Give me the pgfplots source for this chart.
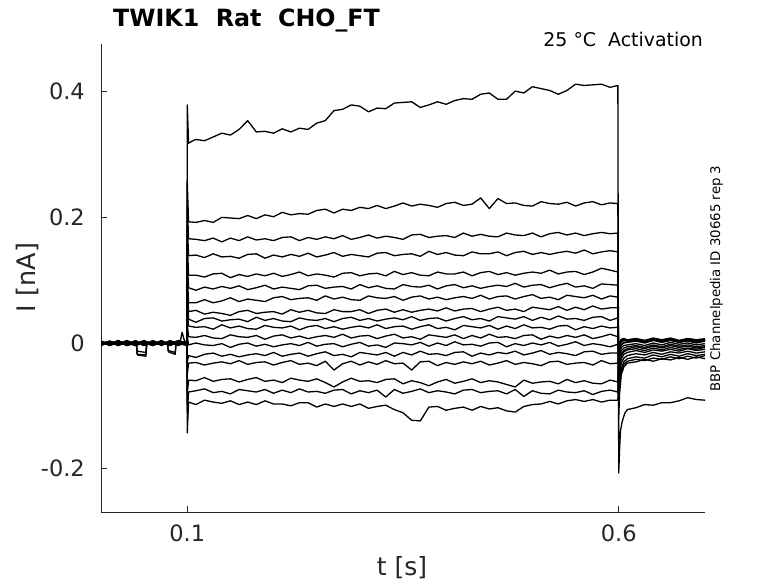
\documentclass[border=0pt]{standalone}
\usepackage{fontspec}
\setmainfont{DejaVu Sans}
\usepackage{pgfplots}
\pgfplotsset{compat=1.18}
\begin{document}
\begin{tikzpicture}
\useasboundingbox (0,0) rectangle (778pt,583pt);
\begin{axis}[
  at={(101pt,71pt)}, anchor=south west,
  scale only axis, width=604pt, height=468pt,
  xmin=0, xmax=0.7, ymin=-0.269, ymax=0.476,
  axis x line*=bottom, axis y line*=left,
  axis line style={black!85, line width=0.8pt, -},
  xtick={0.1,0.6}, xticklabels={0.1,0.6},
  ytick={-0.2,0,0.2,0.4}, yticklabels={-0.2,0,0.2,0.4},
  tick align=inside, major tick length=6pt,
  tick style={black!85, line width=0.8pt},
  ticklabel style={font=\fontsize{22.5}{27}\selectfont, text=black!85},
  xticklabel style={inner sep=0pt, yshift=-13pt},
  yticklabel style={inner sep=0pt, xshift=-16pt},
  cycle list={{black,solid}},
  every axis plot post/.append style={black, solid, line width=1.3pt, line join=round, mark=none},
]
% a
\addplot coordinates {(0,0.002)(0.01,-0.004)(0.02,0.001)(0.03,-0.002)(0.041,-0.003)(0.042,-0.018)(0.052,-0.019)(0.053,-0.003)(0.06,0.003)(0.07,-0.002)(0.08,0.001)(0.09,-0.004)(0.0995,0.002)(0.1,0.379)(0.1015,0.318)(0.105,0.321)
(0.11,0.324)(0.12,0.322)(0.13,0.328)(0.14,0.334)(0.15,0.331)(0.16,0.340)(0.17,0.354)(0.18,0.336)(0.19,0.337)(0.20,0.334)
(0.21,0.341)(0.22,0.336)(0.23,0.342)(0.24,0.340)(0.25,0.350)(0.26,0.354)(0.27,0.370)(0.28,0.372)(0.29,0.379)(0.30,0.377)
(0.31,0.368)(0.32,0.374)(0.33,0.373)(0.34,0.382)(0.35,0.383)(0.36,0.384)(0.37,0.375)(0.38,0.379)(0.39,0.384)(0.40,0.380)
(0.41,0.386)(0.42,0.389)(0.43,0.388)(0.44,0.396)(0.45,0.398)(0.46,0.388)(0.47,0.388)(0.48,0.401)(0.49,0.398)(0.50,0.408)
(0.51,0.405)(0.52,0.402)(0.53,0.396)(0.54,0.402)(0.55,0.412)(0.56,0.410)(0.57,0.411)(0.58,0.412)(0.59,0.407)(0.599,0.410)
(0.6,-0.207)(0.601,-0.17)(0.602,-0.14)(0.604,-0.125)(0.607,-0.112)(0.61,-0.106)(0.62,-0.103)(0.63,-0.098)(0.64,-0.099)(0.65,-0.095)(0.66,-0.095)(0.67,-0.092)(0.68,-0.087)(0.69,-0.090)(0.70,-0.091)};
% b
\addplot coordinates {(0,-0.003)(0.01,0.002)(0.02,-0.004)(0.03,0.001)(0.041,-0.002)(0.042,-0.013)(0.052,-0.015)(0.053,-0.002)(0.06,0.002)(0.07,-0.003)(0.08,0.003)(0.09,-0.001)(0.0995,-0.004)(0.1,0.255)(0.1015,0.193)
(0.11,0.192)(0.12,0.195)(0.13,0.192)(0.14,0.200)(0.15,0.199)(0.16,0.198)(0.17,0.203)(0.18,0.198)(0.19,0.204)(0.20,0.201)
(0.21,0.208)(0.22,0.204)(0.23,0.206)(0.24,0.205)(0.25,0.211)(0.26,0.213)(0.27,0.207)(0.28,0.213)(0.29,0.211)(0.30,0.216)
(0.31,0.214)(0.32,0.219)(0.33,0.214)(0.34,0.218)(0.35,0.223)(0.36,0.218)(0.37,0.221)(0.38,0.219)(0.39,0.216)(0.40,0.222)
(0.41,0.224)(0.42,0.219)(0.43,0.221)(0.44,0.231)(0.45,0.214)(0.46,0.230)(0.47,0.222)(0.48,0.223)(0.49,0.219)(0.50,0.218)
(0.51,0.225)(0.52,0.222)(0.53,0.221)(0.54,0.224)(0.55,0.218)(0.56,0.223)(0.57,0.225)(0.58,0.220)(0.59,0.223)(0.599,0.222)
(0.6,-0.12)(0.601,-0.08)(0.603,-0.05)(0.606,-0.038)(0.61,-0.032)(0.62,-0.030)(0.63,-0.026)(0.64,-0.029)(0.65,-0.025)(0.66,-0.027)(0.67,-0.023)(0.68,-0.026)(0.69,-0.022)(0.70,-0.025)};
% c
\addplot coordinates {(0,0.001)(0.01,-0.002)(0.02,0.003)(0.03,-0.003)(0.041,0.000)(0.042,-0.019)(0.052,-0.021)(0.053,-0.001)(0.06,-0.004)(0.07,0.002)(0.08,-0.002)(0.09,0.003)(0.0995,0.000)(0.1,0.22)(0.1015,0.166)
(0.11,0.165)(0.12,0.163)(0.13,0.167)(0.14,0.161)(0.15,0.167)(0.16,0.163)(0.17,0.169)(0.18,0.164)(0.19,0.166)(0.20,0.163)
(0.21,0.168)(0.22,0.169)(0.23,0.163)(0.24,0.168)(0.25,0.165)(0.26,0.169)(0.27,0.166)(0.28,0.171)(0.29,0.165)(0.30,0.168)
(0.31,0.172)(0.32,0.167)(0.33,0.170)(0.34,0.168)(0.35,0.165)(0.36,0.172)(0.37,0.173)(0.38,0.168)(0.39,0.170)(0.40,0.171)
(0.41,0.168)(0.42,0.175)(0.43,0.170)(0.44,0.173)(0.45,0.170)(0.46,0.169)(0.47,0.175)(0.48,0.172)(0.49,0.171)(0.50,0.175)
(0.51,0.169)(0.52,0.174)(0.53,0.176)(0.54,0.172)(0.55,0.175)(0.56,0.171)(0.57,0.174)(0.58,0.176)(0.59,0.174)(0.599,0.175)
(0.6,-0.10)(0.601,-0.07)(0.603,-0.045)(0.606,-0.034)(0.61,-0.029)(0.62,-0.026)(0.63,-0.028)(0.64,-0.024)(0.65,-0.026)(0.66,-0.022)(0.67,-0.025)(0.68,-0.021)(0.69,-0.024)(0.70,-0.020)};
% d
\addplot coordinates {(0,-0.001)(0.01,0.003)(0.02,-0.002)(0.03,0.002)(0.04,-0.003)(0.05,0.001)(0.06,-0.002)(0.07,0.003)(0.077,-0.001)(0.078,-0.014)(0.086,-0.018)(0.087,-0.002)(0.0995,0.002)(0.1,0.19)(0.1015,0.139)
(0.11,0.140)(0.12,0.136)(0.13,0.142)(0.14,0.137)(0.15,0.138)(0.16,0.135)(0.17,0.141)(0.18,0.142)(0.19,0.135)(0.20,0.140)
(0.21,0.137)(0.22,0.141)(0.23,0.138)(0.24,0.143)(0.25,0.137)(0.26,0.140)(0.27,0.144)(0.28,0.138)(0.29,0.141)(0.30,0.139)
(0.31,0.137)(0.32,0.143)(0.33,0.144)(0.34,0.139)(0.35,0.141)(0.36,0.142)(0.37,0.138)(0.38,0.146)(0.39,0.141)(0.40,0.144)
(0.41,0.140)(0.42,0.139)(0.43,0.145)(0.44,0.142)(0.45,0.142)(0.46,0.145)(0.47,0.139)(0.48,0.144)(0.49,0.146)(0.50,0.141)
(0.51,0.144)(0.52,0.141)(0.53,0.144)(0.54,0.146)(0.55,0.143)(0.56,0.148)(0.57,0.142)(0.58,0.145)(0.59,0.147)(0.599,0.145)
(0.6,-0.085)(0.601,-0.06)(0.603,-0.04)(0.606,-0.030)(0.61,-0.025)(0.62,-0.022)(0.63,-0.024)(0.64,-0.019)(0.65,-0.022)(0.66,-0.018)(0.67,-0.021)(0.68,-0.017)(0.69,-0.020)(0.70,-0.018)};
% e
\addplot coordinates {(0,0.003)(0.01,-0.001)(0.02,0.002)(0.03,-0.004)(0.04,0.002)(0.05,-0.002)(0.06,0.001)(0.07,-0.001)(0.077,0.001)(0.078,-0.012)(0.086,-0.015)(0.087,0.000)(0.0995,-0.002)(0.1,0.16)(0.1015,0.108)
(0.11,0.108)(0.12,0.105)(0.13,0.110)(0.14,0.111)(0.15,0.104)(0.16,0.109)(0.17,0.106)(0.18,0.110)(0.19,0.107)(0.20,0.111)
(0.21,0.106)(0.22,0.109)(0.23,0.113)(0.24,0.107)(0.25,0.110)(0.26,0.108)(0.27,0.105)(0.28,0.111)(0.29,0.112)(0.30,0.107)
(0.31,0.110)(0.32,0.111)(0.33,0.107)(0.34,0.114)(0.35,0.109)(0.36,0.112)(0.37,0.108)(0.38,0.107)(0.39,0.113)(0.40,0.110)
(0.41,0.110)(0.42,0.113)(0.43,0.107)(0.44,0.112)(0.45,0.114)(0.46,0.109)(0.47,0.112)(0.48,0.108)(0.49,0.111)(0.50,0.113)
(0.51,0.111)(0.52,0.116)(0.53,0.110)(0.54,0.113)(0.55,0.114)(0.56,0.109)(0.57,0.113)(0.58,0.119)(0.59,0.116)(0.599,0.113)
(0.6,-0.07)(0.601,-0.05)(0.603,-0.032)(0.606,-0.024)(0.61,-0.020)(0.62,-0.017)(0.63,-0.019)(0.64,-0.015)(0.65,-0.018)(0.66,-0.014)(0.67,-0.016)(0.68,-0.013)(0.69,-0.016)(0.70,-0.014)};
% f
\addplot coordinates {(0,-0.002)(0.01,0.001)(0.02,-0.003)(0.03,0.003)(0.04,-0.001)(0.05,0.002)(0.06,-0.003)(0.07,0.001)(0.08,-0.002)(0.09,0.002)(0.092,0.003)(0.094,0.017)(0.097,0.002)(0.0995,0.000)(0.1,0.13)(0.1015,0.088)
(0.11,0.084)(0.12,0.089)(0.13,0.086)(0.14,0.090)(0.15,0.087)(0.16,0.091)(0.17,0.085)(0.18,0.088)(0.19,0.092)(0.20,0.086)
(0.21,0.089)(0.22,0.087)(0.23,0.085)(0.24,0.091)(0.25,0.092)(0.26,0.087)(0.27,0.089)(0.28,0.090)(0.29,0.086)(0.30,0.093)
(0.31,0.088)(0.32,0.091)(0.33,0.087)(0.34,0.086)(0.35,0.093)(0.36,0.090)(0.37,0.089)(0.38,0.092)(0.39,0.086)(0.40,0.091)
(0.41,0.093)(0.42,0.088)(0.43,0.091)(0.44,0.087)(0.45,0.090)(0.46,0.092)(0.47,0.090)(0.48,0.095)(0.49,0.089)(0.50,0.092)
(0.51,0.093)(0.52,0.088)(0.53,0.092)(0.54,0.095)(0.55,0.089)(0.56,0.091)(0.57,0.087)(0.58,0.094)(0.59,0.093)(0.599,0.092)
(0.6,-0.06)(0.601,-0.04)(0.603,-0.025)(0.606,-0.018)(0.61,-0.015)(0.62,-0.012)(0.63,-0.015)(0.64,-0.011)(0.65,-0.013)(0.66,-0.010)(0.67,-0.013)(0.68,-0.009)(0.69,-0.012)(0.70,-0.010)};
% g
\addplot coordinates {(0,0.001)(0.01,-0.003)(0.02,0.002)(0.03,-0.001)(0.04,0.003)(0.05,-0.004)(0.06,0.002)(0.07,-0.002)(0.08,0.003)(0.09,-0.003)(0.0995,0.001)(0.1,0.11)(0.1015,0.064)
(0.11,0.064)(0.12,0.069)(0.13,0.064)(0.14,0.067)(0.15,0.072)(0.16,0.066)(0.17,0.070)(0.18,0.068)(0.19,0.066)(0.20,0.072)
(0.21,0.074)(0.22,0.069)(0.23,0.071)(0.24,0.072)(0.25,0.068)(0.26,0.075)(0.27,0.070)(0.28,0.073)(0.29,0.069)(0.30,0.068)
(0.31,0.075)(0.32,0.072)(0.33,0.071)(0.34,0.074)(0.35,0.068)(0.36,0.073)(0.37,0.075)(0.38,0.070)(0.39,0.073)(0.40,0.069)
(0.41,0.072)(0.42,0.074)(0.43,0.071)(0.44,0.076)(0.45,0.070)(0.46,0.074)(0.47,0.075)(0.48,0.070)(0.49,0.074)(0.50,0.077)
(0.51,0.071)(0.52,0.073)(0.53,0.069)(0.54,0.076)(0.55,0.074)(0.56,0.072)(0.57,0.076)(0.58,0.070)(0.59,0.075)(0.599,0.073)
(0.6,-0.05)(0.601,-0.032)(0.603,-0.02)(0.606,-0.014)(0.61,-0.011)(0.62,-0.009)(0.63,-0.012)(0.64,-0.008)(0.65,-0.011)(0.66,-0.007)(0.67,-0.010)(0.68,-0.008)(0.69,-0.010)(0.70,-0.007)};
% h
\addplot coordinates {(0,-0.004)(0.01,0.002)(0.02,-0.001)(0.03,0.004)(0.04,-0.002)(0.05,0.001)(0.06,-0.004)(0.07,0.003)(0.08,-0.001)(0.09,0.002)(0.0995,-0.003)(0.1,0.09)(0.1015,0.050)
(0.11,0.052)(0.12,0.046)(0.13,0.049)(0.14,0.047)(0.15,0.044)(0.16,0.050)(0.17,0.052)(0.18,0.047)(0.19,0.049)(0.20,0.050)
(0.21,0.046)(0.22,0.053)(0.23,0.049)(0.24,0.052)(0.25,0.048)(0.26,0.047)(0.27,0.053)(0.28,0.050)(0.29,0.050)(0.30,0.053)
(0.31,0.047)(0.32,0.052)(0.33,0.054)(0.34,0.049)(0.35,0.053)(0.36,0.049)(0.37,0.052)(0.38,0.054)(0.39,0.051)(0.40,0.056)
(0.41,0.051)(0.42,0.054)(0.43,0.055)(0.44,0.050)(0.45,0.054)(0.46,0.057)(0.47,0.052)(0.48,0.054)(0.49,0.050)(0.50,0.057)
(0.51,0.055)(0.52,0.053)(0.53,0.058)(0.54,0.052)(0.55,0.057)(0.56,0.053)(0.57,0.059)(0.58,0.054)(0.59,0.056)(0.599,0.056)
(0.6,-0.045)(0.601,-0.028)(0.603,-0.017)(0.606,-0.012)(0.61,-0.009)(0.62,-0.006)(0.63,-0.009)(0.64,-0.005)(0.65,-0.008)(0.66,-0.004)(0.67,-0.007)(0.68,-0.005)(0.69,-0.008)(0.70,-0.006)};
% i
\addplot coordinates {(0,0.002)(0.01,-0.002)(0.02,0.004)(0.03,-0.003)(0.04,0.001)(0.05,-0.001)(0.06,0.003)(0.07,-0.004)(0.08,0.002)(0.09,-0.001)(0.0995,0.003)(0.1,0.07)(0.1015,0.038)
(0.11,0.033)(0.12,0.039)(0.13,0.040)(0.14,0.035)(0.15,0.037)(0.16,0.038)(0.17,0.034)(0.18,0.041)(0.19,0.036)(0.20,0.039)
(0.21,0.035)(0.22,0.034)(0.23,0.040)(0.24,0.037)(0.25,0.036)(0.26,0.039)(0.27,0.034)(0.28,0.039)(0.29,0.041)(0.30,0.036)
(0.31,0.039)(0.32,0.035)(0.33,0.038)(0.34,0.040)(0.35,0.037)(0.36,0.042)(0.37,0.036)(0.38,0.039)(0.39,0.040)(0.40,0.035)
(0.41,0.039)(0.42,0.042)(0.43,0.037)(0.44,0.039)(0.45,0.035)(0.46,0.042)(0.47,0.040)(0.48,0.038)(0.49,0.042)(0.50,0.036)
(0.51,0.041)(0.52,0.037)(0.53,0.043)(0.54,0.038)(0.55,0.039)(0.56,0.036)(0.57,0.041)(0.58,0.042)(0.59,0.036)(0.599,0.040)
(0.6,-0.04)(0.601,-0.022)(0.603,-0.012)(0.606,-0.008)(0.61,-0.006)(0.62,-0.004)(0.63,-0.007)(0.64,-0.003)(0.65,-0.006)(0.66,-0.002)(0.67,-0.005)(0.68,-0.003)(0.69,-0.006)(0.70,-0.004)};
% j
\addplot coordinates {(0,-0.001)(0.01,0.003)(0.02,-0.003)(0.03,0.001)(0.04,-0.004)(0.05,0.003)(0.06,-0.001)(0.07,0.002)(0.08,-0.003)(0.09,0.004)(0.0995,-0.002)(0.1,0.05)(0.1015,0.027)
(0.11,0.025)(0.12,0.026)(0.13,0.022)(0.14,0.029)(0.15,0.024)(0.16,0.027)(0.17,0.023)(0.18,0.022)(0.19,0.028)(0.20,0.025)
(0.21,0.024)(0.22,0.027)(0.23,0.021)(0.24,0.026)(0.25,0.028)(0.26,0.023)(0.27,0.026)(0.28,0.022)(0.29,0.025)(0.30,0.027)
(0.31,0.024)(0.32,0.029)(0.33,0.023)(0.34,0.026)(0.35,0.027)(0.36,0.022)(0.37,0.026)(0.38,0.029)(0.39,0.023)(0.40,0.025)
(0.41,0.021)(0.42,0.028)(0.43,0.026)(0.44,0.024)(0.45,0.028)(0.46,0.022)(0.47,0.027)(0.48,0.023)(0.49,0.029)(0.50,0.024)
(0.51,0.025)(0.52,0.022)(0.53,0.027)(0.54,0.028)(0.55,0.021)(0.56,0.026)(0.57,0.023)(0.58,0.027)(0.59,0.024)(0.599,0.025)
(0.6,-0.035)(0.601,-0.015)(0.603,-0.007)(0.606,-0.004)(0.61,-0.003)(0.62,-0.001)(0.63,-0.004)(0.64,0.000)(0.65,-0.003)(0.66,0.001)(0.67,-0.002)(0.68,0.000)(0.69,-0.003)(0.70,-0.001)};
% k
\addplot coordinates {(0,0.003)(0.01,-0.004)(0.02,0.001)(0.03,-0.002)(0.04,0.004)(0.05,-0.003)(0.06,0.001)(0.07,-0.003)(0.08,0.004)(0.09,-0.002)(0.0995,0.001)(0.1,0.03)(0.1015,0.010)
(0.11,0.009)(0.12,0.012)(0.13,0.008)(0.14,0.007)(0.15,0.013)(0.16,0.010)(0.17,0.009)(0.18,0.012)(0.19,0.006)(0.20,0.011)
(0.21,0.013)(0.22,0.008)(0.23,0.011)(0.24,0.007)(0.25,0.010)(0.26,0.012)(0.27,0.009)(0.28,0.014)(0.29,0.008)(0.30,0.011)
(0.31,0.012)(0.32,0.007)(0.33,0.011)(0.34,0.014)(0.35,0.008)(0.36,0.010)(0.37,0.006)(0.38,0.013)(0.39,0.011)(0.40,0.009)
(0.41,0.013)(0.42,0.007)(0.43,0.012)(0.44,0.008)(0.45,0.014)(0.46,0.009)(0.47,0.010)(0.48,0.007)(0.49,0.012)(0.50,0.013)
(0.51,0.006)(0.52,0.011)(0.53,0.008)(0.54,0.012)(0.55,0.009)(0.56,0.013)(0.57,0.007)(0.58,0.010)(0.59,0.014)(0.599,0.010)
(0.6,-0.03)(0.601,-0.010)(0.603,-0.003)(0.606,0.000)(0.61,0.001)(0.62,0.003)(0.63,0.000)(0.64,0.004)(0.65,0.001)(0.66,0.004)(0.67,0.001)(0.68,0.003)(0.69,0.000)(0.70,0.003)};
% l
\addplot coordinates {(0,-0.002)(0.01,0.001)(0.02,-0.004)(0.03,0.002)(0.04,-0.001)(0.05,0.004)(0.06,-0.003)(0.07,0.000)(0.08,-0.004)(0.09,0.003)(0.0995,-0.001)(0.1,0.01)(0.1015,-0.003)
(0.11,0.000)(0.12,-0.003)(0.13,-0.004)(0.14,-0.001)(0.15,-0.007)(0.16,-0.002)(0.17,0.000)(0.18,-0.005)(0.19,-0.002)(0.20,-0.006)
(0.21,-0.003)(0.22,-0.001)(0.23,-0.004)(0.24,0.001)(0.25,-0.005)(0.26,-0.002)(0.27,-0.001)(0.28,-0.006)(0.29,-0.002)(0.30,0.001)
(0.31,-0.005)(0.32,-0.003)(0.33,-0.007)(0.34,0.000)(0.35,-0.001)(0.36,-0.003)(0.37,0.001)(0.38,-0.005)(0.39,0.000)(0.40,-0.004)
(0.41,0.002)(0.42,-0.003)(0.43,-0.002)(0.44,-0.005)(0.45,0.000)(0.46,0.001)(0.47,-0.006)(0.48,-0.001)(0.49,-0.004)(0.50,0.000)
(0.51,-0.003)(0.52,0.001)(0.53,-0.005)(0.54,-0.002)(0.55,0.002)(0.56,-0.004)(0.57,-0.001)(0.58,-0.003)(0.59,-0.006)(0.599,-0.002)
(0.6,-0.025)(0.601,-0.008)(0.603,-0.002)(0.606,0.001)(0.61,0.002)(0.62,0.004)(0.63,0.001)(0.64,0.005)(0.65,0.002)(0.66,0.005)(0.67,0.002)(0.68,0.004)(0.69,0.001)(0.70,0.004)};
% m
\addplot coordinates {(0,0.002)(0.01,-0.003)(0.02,0.003)(0.03,-0.001)(0.04,0.001)(0.05,-0.004)(0.06,0.004)(0.07,-0.002)(0.08,0.001)(0.09,-0.003)(0.0995,0.002)(0.1,-0.03)(0.1015,-0.020)
(0.11,-0.023)(0.12,-0.018)(0.13,-0.016)(0.14,-0.021)(0.15,-0.018)(0.16,-0.022)(0.17,-0.019)(0.18,-0.017)(0.19,-0.020)(0.20,-0.015)
(0.21,-0.021)(0.22,-0.018)(0.23,-0.016)(0.24,-0.021)(0.25,-0.017)(0.26,-0.014)(0.27,-0.020)(0.28,-0.018)(0.29,-0.022)(0.30,-0.015)
(0.31,-0.017)(0.32,-0.019)(0.33,-0.015)(0.34,-0.021)(0.35,-0.015)(0.36,-0.019)(0.37,-0.013)(0.38,-0.018)(0.39,-0.017)(0.40,-0.020)
(0.41,-0.015)(0.42,-0.014)(0.43,-0.021)(0.44,-0.016)(0.45,-0.019)(0.46,-0.015)(0.47,-0.017)(0.48,-0.013)(0.49,-0.019)(0.50,-0.016)
(0.51,-0.012)(0.52,-0.018)(0.53,-0.015)(0.54,-0.017)(0.55,-0.020)(0.56,-0.014)(0.57,-0.013)(0.58,-0.018)(0.59,-0.016)(0.599,-0.016)
(0.6,-0.02)(0.601,-0.004)(0.603,0.002)(0.606,0.004)(0.61,0.003)(0.62,0.005)(0.63,0.002)(0.64,0.006)(0.65,0.003)(0.66,0.005)(0.67,0.002)(0.68,0.005)(0.69,0.002)(0.70,0.004)};
% n
\addplot coordinates {(0,-0.003)(0.01,0.003)(0.02,-0.001)(0.03,0.002)(0.04,-0.004)(0.05,0.000)(0.06,-0.002)(0.07,0.004)(0.08,-0.003)(0.09,0.001)(0.0995,-0.002)(0.1,-0.05)(0.1015,-0.032)
(0.11,-0.031)(0.12,-0.035)(0.13,-0.032)(0.14,-0.030)(0.15,-0.033)(0.16,-0.028)(0.17,-0.034)(0.18,-0.031)(0.19,-0.030)(0.20,-0.035)
(0.21,-0.031)(0.22,-0.028)(0.23,-0.034)(0.24,-0.032)(0.25,-0.036)(0.26,-0.029)(0.27,-0.043)(0.28,-0.033)(0.29,-0.029)(0.30,-0.035)
(0.31,-0.030)(0.32,-0.034)(0.33,-0.028)(0.34,-0.033)(0.35,-0.032)(0.36,-0.043)(0.37,-0.030)(0.38,-0.029)(0.39,-0.036)(0.40,-0.031)
(0.41,-0.034)(0.42,-0.030)(0.43,-0.033)(0.44,-0.029)(0.45,-0.035)(0.46,-0.032)(0.47,-0.028)(0.48,-0.034)(0.49,-0.031)(0.50,-0.033)
(0.51,-0.036)(0.52,-0.030)(0.53,-0.029)(0.54,-0.034)(0.55,-0.032)(0.56,-0.031)(0.57,-0.035)(0.58,-0.028)(0.59,-0.033)(0.599,-0.032)
(0.6,-0.02)(0.601,-0.002)(0.603,0.003)(0.606,0.005)(0.61,0.004)(0.62,0.006)(0.63,0.003)(0.64,0.006)(0.65,0.004)(0.66,0.007)(0.67,0.003)(0.68,0.006)(0.69,0.004)(0.70,0.006)};
% o
\addplot coordinates {(0,0.001)(0.01,-0.002)(0.02,0.004)(0.03,-0.004)(0.04,0.002)(0.05,-0.001)(0.06,0.003)(0.07,-0.003)(0.08,0.000)(0.09,0.003)(0.0995,-0.001)(0.1,-0.08)(0.1015,-0.059)
(0.11,-0.060)(0.12,-0.055)(0.13,-0.061)(0.14,-0.058)(0.15,-0.057)(0.16,-0.062)(0.17,-0.058)(0.18,-0.055)(0.19,-0.061)(0.20,-0.059)
(0.21,-0.063)(0.22,-0.056)(0.23,-0.059)(0.24,-0.061)(0.25,-0.057)(0.26,-0.063)(0.27,-0.070)(0.28,-0.062)(0.29,-0.056)(0.30,-0.061)
(0.31,-0.060)(0.32,-0.063)(0.33,-0.058)(0.34,-0.057)(0.35,-0.065)(0.36,-0.060)(0.37,-0.063)(0.38,-0.068)(0.39,-0.062)(0.40,-0.058)
(0.41,-0.064)(0.42,-0.061)(0.43,-0.057)(0.44,-0.063)(0.45,-0.060)(0.46,-0.062)(0.47,-0.066)(0.48,-0.070)(0.49,-0.059)(0.50,-0.064)
(0.51,-0.062)(0.52,-0.061)(0.53,-0.065)(0.54,-0.058)(0.55,-0.063)(0.56,-0.060)(0.57,-0.064)(0.58,-0.065)(0.59,-0.059)(0.599,-0.062)
(0.6,-0.015)(0.601,0.000)(0.603,0.004)(0.606,0.006)(0.61,0.005)(0.62,0.007)(0.63,0.004)(0.64,0.007)(0.65,0.005)(0.66,0.008)(0.67,0.004)(0.68,0.007)(0.69,0.005)(0.70,0.007)};
% p
\addplot coordinates {(0,-0.004)(0.01,0.002)(0.02,-0.002)(0.03,0.003)(0.04,-0.003)(0.05,0.002)(0.06,-0.001)(0.07,0.001)(0.08,-0.004)(0.09,0.002)(0.0995,0.000)(0.1,-0.11)(0.1015,-0.078)
(0.11,-0.076)(0.12,-0.073)(0.13,-0.079)(0.14,-0.077)(0.15,-0.081)(0.16,-0.074)(0.17,-0.076)(0.18,-0.078)(0.19,-0.074)(0.20,-0.080)
(0.21,-0.075)(0.22,-0.079)(0.23,-0.073)(0.24,-0.078)(0.25,-0.077)(0.26,-0.080)(0.27,-0.075)(0.28,-0.074)(0.29,-0.081)(0.30,-0.076)
(0.31,-0.079)(0.32,-0.075)(0.33,-0.086)(0.34,-0.074)(0.35,-0.080)(0.36,-0.077)(0.37,-0.073)(0.38,-0.079)(0.39,-0.076)(0.40,-0.078)
(0.41,-0.081)(0.42,-0.075)(0.43,-0.074)(0.44,-0.079)(0.45,-0.077)(0.46,-0.076)(0.47,-0.081)(0.48,-0.074)(0.49,-0.085)(0.50,-0.076)
(0.51,-0.080)(0.52,-0.081)(0.53,-0.075)(0.54,-0.078)(0.55,-0.079)(0.56,-0.076)(0.57,-0.082)(0.58,-0.077)(0.59,-0.075)(0.599,-0.078)
(0.6,-0.01)(0.601,0.001)(0.603,0.005)(0.606,0.006)(0.61,0.004)(0.62,0.006)(0.63,0.003)(0.64,0.007)(0.65,0.004)(0.66,0.006)(0.67,0.003)(0.68,0.006)(0.69,0.004)(0.70,0.005)};
% q
\addplot coordinates {(0,0.002)(0.01,-0.001)(0.02,0.003)(0.03,-0.004)(0.04,0.000)(0.05,0.003)(0.06,-0.004)(0.07,0.002)(0.08,-0.001)(0.09,0.004)(0.0995,-0.002)(0.1,-0.143)(0.1015,-0.094)
(0.11,-0.098)(0.12,-0.091)(0.13,-0.094)(0.14,-0.096)(0.15,-0.092)(0.16,-0.098)(0.17,-0.094)(0.18,-0.098)(0.19,-0.092)(0.20,-0.097)
(0.21,-0.097)(0.22,-0.100)(0.23,-0.095)(0.24,-0.095)(0.25,-0.102)(0.26,-0.097)(0.27,-0.101)(0.28,-0.097)(0.29,-0.101)(0.30,-0.097)
(0.31,-0.104)(0.32,-0.101)(0.33,-0.099)(0.34,-0.106)(0.35,-0.111)(0.36,-0.123)(0.37,-0.124)(0.38,-0.102)(0.39,-0.101)(0.40,-0.107)
(0.41,-0.104)(0.42,-0.102)(0.43,-0.107)(0.44,-0.101)(0.45,-0.105)(0.46,-0.103)(0.47,-0.108)(0.48,-0.110)(0.49,-0.101)(0.50,-0.098)
(0.51,-0.097)(0.52,-0.093)(0.53,-0.097)(0.54,-0.092)(0.55,-0.090)(0.56,-0.093)(0.57,-0.090)(0.58,-0.094)(0.59,-0.091)(0.599,-0.091)
(0.6,-0.01)(0.601,0.002)(0.603,0.006)(0.606,0.007)(0.61,0.005)(0.62,0.007)(0.63,0.004)(0.64,0.008)(0.65,0.005)(0.66,0.007)(0.67,0.004)(0.68,0.007)(0.69,0.005)(0.70,0.006)};
\end{axis}
\node[anchor=base west, inner sep=0pt, font=\bfseries\fontsize{23.75}{28}\selectfont] at (113pt,556pt) {TWIK1\ \ Rat\ \ CHO\_FT};
\node[anchor=base east, inner sep=0pt, font=\fontsize{18.9}{22}\selectfont] at (703pt,536pt) {25 °C\ \ Activation};
\node[rotate=90, anchor=center, inner sep=0pt, font=\fontsize{25.5}{30}\selectfont, text=black!85] at (27pt,305.5pt) {I [nA]};
\node[anchor=center, inner sep=0pt, font=\fontsize{25}{30}\selectfont, text=black!85] at (402pt,15.5pt) {t [s]};
\node[rotate=90, anchor=base, inner sep=0pt, font=\fontsize{13.3}{16}\selectfont] at (720pt,304.5pt) {BBP Channelpedia ID 30665 rep 3};
\end{tikzpicture}
\end{document}
